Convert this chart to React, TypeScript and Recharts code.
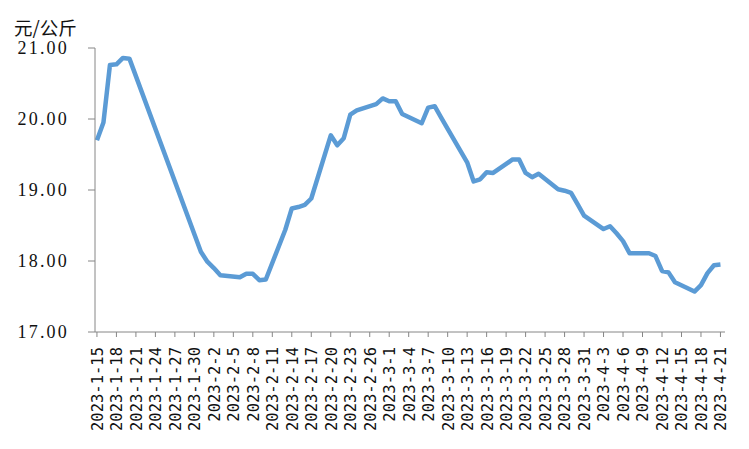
import { Line, LineChart, XAxis, YAxis } from "recharts";

// weekday quotes
const dates = [
  "2023-1-15", "2023-1-16", "2023-1-17", "2023-1-18", "2023-1-19", "2023-1-20",
  "2023-1-31", "2023-2-1", "2023-2-2", "2023-2-3", "2023-2-6", "2023-2-7",
  "2023-2-8", "2023-2-9", "2023-2-10", "2023-2-13", "2023-2-14", "2023-2-15",
  "2023-2-16", "2023-2-17", "2023-2-20", "2023-2-21", "2023-2-22", "2023-2-23",
  "2023-2-24", "2023-2-27", "2023-2-28", "2023-3-1", "2023-3-2", "2023-3-3",
  "2023-3-6", "2023-3-7", "2023-3-8", "2023-3-9", "2023-3-10", "2023-3-13",
  "2023-3-14", "2023-3-15", "2023-3-16", "2023-3-17", "2023-3-20", "2023-3-21",
  "2023-3-22", "2023-3-23", "2023-3-24", "2023-3-27", "2023-3-28", "2023-3-29",
  "2023-3-30", "2023-3-31", "2023-4-3", "2023-4-4", "2023-4-5", "2023-4-6",
  "2023-4-7", "2023-4-10", "2023-4-11", "2023-4-12", "2023-4-13", "2023-4-14",
  "2023-4-17", "2023-4-18", "2023-4-19", "2023-4-20", "2023-4-21",
];

const prices = [
  19.7, 19.95, 20.76, 20.77, 20.86, 20.85,
  18.13, 17.99, 17.9, 17.8, 17.77, 17.82,
  17.82, 17.73, 17.74, 18.44, 18.74, 18.76,
  18.79, 18.88, 19.77, 19.63, 19.73, 20.06,
  20.12, 20.21, 20.29, 20.25, 20.25, 20.07,
  19.94, 20.16, 20.18, 20.02, 19.86, 19.39,
  19.12, 19.15, 19.25, 19.24, 19.43, 19.43,
  19.24, 19.18, 19.23, 19.01, 18.99, 18.96,
  18.8, 18.64, 18.45, 18.49, 18.39, 18.28,
  18.11, 18.11, 18.07, 17.86, 17.84, 17.7,
  17.57, 17.66, 17.83, 17.94, 17.95,
];

const tickDates = [
  "2023-1-15", "2023-1-18", "2023-1-21", "2023-1-24", "2023-1-27", "2023-1-30",
  "2023-2-2", "2023-2-5", "2023-2-8", "2023-2-11", "2023-2-14", "2023-2-17",
  "2023-2-20", "2023-2-23", "2023-2-26", "2023-3-1", "2023-3-4", "2023-3-7",
  "2023-3-10", "2023-3-13", "2023-3-16", "2023-3-19", "2023-3-22", "2023-3-25",
  "2023-3-28", "2023-3-31", "2023-4-3", "2023-4-6", "2023-4-9", "2023-4-12",
  "2023-4-15", "2023-4-18", "2023-4-21",
];

const yTicks = [17, 18, 19, 20, 21];

const START = Date.UTC(2023, 0, 15);

const dayIndex = (label: string) => {
  const [y, m, d] = label.split("-").map(Number);
  return Math.round((Date.UTC(y, m - 1, d) - START) / 86400000);
};

const chartData = dates.map((date, i) => ({ day: dayIndex(date), price: prices[i] }));
const xTicks = tickDates.map(dayIndex);
const labelByDay = new Map(tickDates.map((t) => [dayIndex(t), t]));

const AXIS = "#868686";

function DateTick({ x, y, payload }: any) {
  return (
    <text
      x={x}
      y={y}
      transform={`rotate(-90, ${x}, ${y})`}
      textAnchor="end"
      dy="0.38em"
      fontFamily="DejaVu Sans Mono"
      fontSize={15.5}
      fill="#111"
    >
      {labelByDay.get(payload.value)}
    </text>
  );
}

function PriceTick({ x, y, payload }: any) {
  return (
    <text
      x={x}
      y={y}
      textAnchor="end"
      dy="0.36em"
      fontFamily="Liberation Serif"
      fontSize={18}
      letterSpacing={2.2}
      fill="#111"
    >
      {Number(payload.value).toFixed(2)}
    </text>
  );
}

export default function App() {
  return (
    <div
      style={{
        position: "fixed",
        top: 0,
        left: 0,
        width: 749,
        height: 449,
        background: "#fff",
      }}
    >
      <div
        style={{
          position: "absolute",
          left: 14,
          top: 16,
          fontFamily: "'Noto Sans CJK SC'",
          fontSize: 18.5,
          lineHeight: "22px",
          color: "#111",
        }}
      >
        元/公斤
      </div>
      <LineChart
        width={749}
        height={449}
        data={chartData}
        margin={{ top: 48, right: 24, bottom: 0, left: 0 }}
      >
        <XAxis
          dataKey="day"
          type="number"
          domain={[-0.3, 96.7]}
          ticks={xTicks}
          interval={0}
          height={117}
          stroke={AXIS}
          tickSize={5}
          tickMargin={10}
          tick={<DateTick />}
        />
        <YAxis
          domain={[17, 21]}
          ticks={yTicks}
          interval={0}
          width={95}
          stroke={AXIS}
          tickSize={7}
          tickMargin={19}
          tick={<PriceTick />}
        />
        <Line
          type="linear"
          dataKey="price"
          stroke="#5B9BD5"
          strokeWidth={4.5}
          strokeLinejoin="round"
          dot={false}
          isAnimationActive={false}
        />
      </LineChart>
    </div>
  );
}
